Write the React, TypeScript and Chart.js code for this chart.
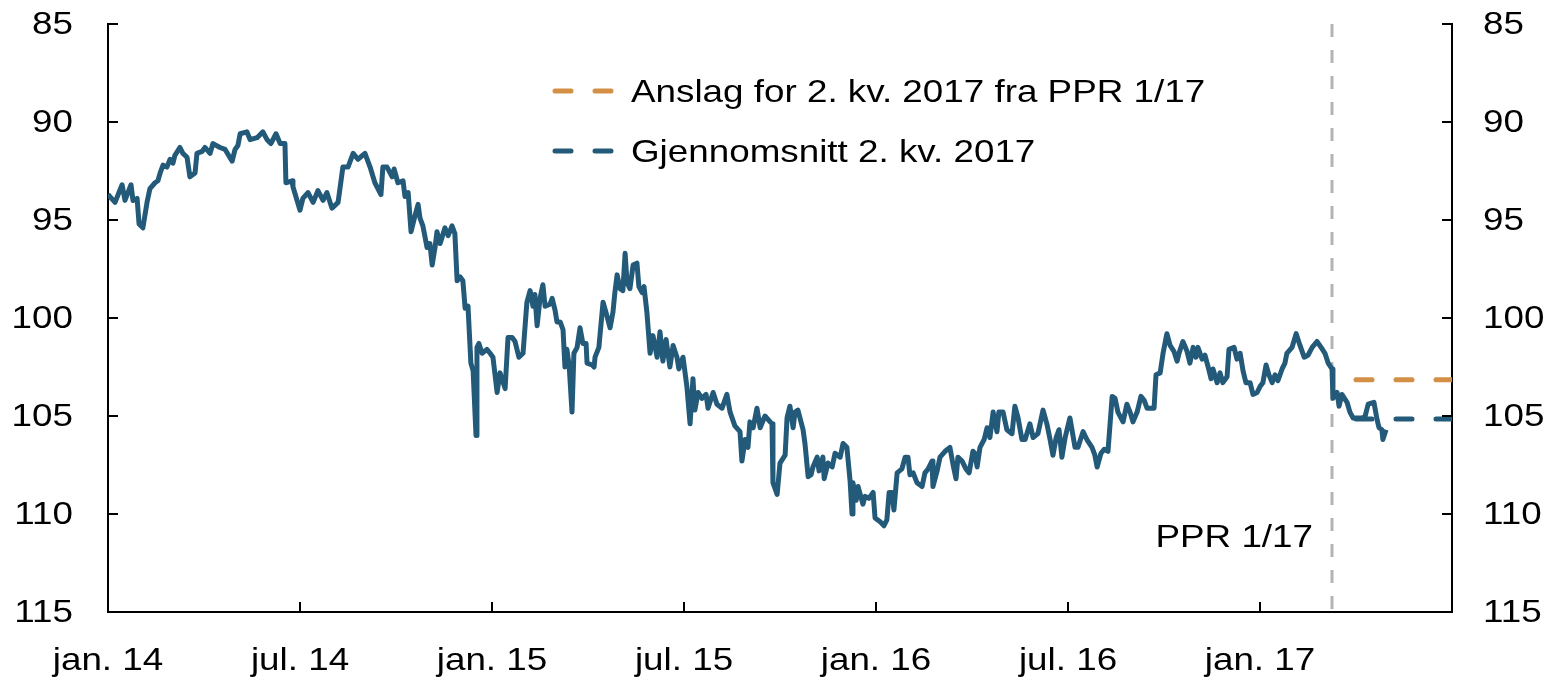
import React, { useEffect, useRef } from "react";
import { Chart, registerables } from "chart.js";

Chart.register(...registerables);

// Time axis: months since jan. 2014
const monthsSinceJan2014 = [
  0.00, 0.22, 0.44, 0.53, 0.72, 0.78, 0.91, 0.97, 1.09, 1.22, 1.31, 1.47, 1.56, 1.63, 1.72, 1.84, 1.94, 2.03, 2.09, 2.25,
  2.34, 2.47, 2.56, 2.72, 2.78, 2.94, 3.03, 3.19, 3.28, 3.50, 3.66, 3.88, 3.97, 4.06, 4.13, 4.34, 4.44, 4.66, 4.84, 4.97,
  5.09, 5.25, 5.38, 5.53, 5.56, 5.75, 5.78, 6.00, 6.09, 6.25, 6.41, 6.56, 6.72, 6.84, 7.00, 7.19, 7.34, 7.50, 7.66, 7.81,
  8.03, 8.19, 8.34, 8.53, 8.59, 8.72, 8.88, 8.94, 9.06, 9.22, 9.28, 9.38, 9.47, 9.59, 9.69, 9.75, 9.84, 9.97, 10.06, 10.13,
  10.22, 10.28, 10.38, 10.53, 10.63, 10.75, 10.84, 10.91, 11.00, 11.09, 11.16, 11.25, 11.34, 11.41, 11.50, 11.53, 11.59, 11.69, 11.84, 11.94,
  12.03, 12.16, 12.25, 12.41, 12.50, 12.63, 12.72, 12.84, 12.97, 13.09, 13.19, 13.28, 13.34, 13.41, 13.50, 13.59, 13.66, 13.81, 13.88, 13.97,
  14.03, 14.13, 14.22, 14.28, 14.34, 14.41, 14.50, 14.56, 14.66, 14.75, 14.84, 14.94, 14.97, 15.13, 15.19, 15.22, 15.34, 15.47, 15.56, 15.69,
  15.78, 15.84, 15.91, 16.00, 16.09, 16.16, 16.22, 16.31, 16.41, 16.53, 16.59, 16.69, 16.75, 16.84, 16.94, 17.03, 17.16, 17.25, 17.34, 17.44,
  17.56, 17.66, 17.78, 17.84, 17.97, 18.09, 18.19, 18.28, 18.34, 18.44, 18.56, 18.69, 18.75, 18.91, 19.03, 19.19, 19.34, 19.44, 19.59, 19.75,
  19.81, 19.91, 20.00, 20.06, 20.16, 20.28, 20.38, 20.53, 20.75, 20.78, 20.91, 21.00, 21.16, 21.22, 21.31, 21.41, 21.47, 21.56, 21.72, 21.78,
  21.88, 21.97, 22.03, 22.16, 22.22, 22.34, 22.38, 22.50, 22.63, 22.72, 22.88, 22.97, 23.09, 23.19, 23.25, 23.28, 23.38, 23.44, 23.59, 23.66,
  23.78, 23.91, 23.97, 24.13, 24.25, 24.34, 24.41, 24.50, 24.56, 24.66, 24.81, 24.91, 25.00, 25.06, 25.16, 25.28, 25.44, 25.53, 25.63, 25.75,
  25.78, 25.91, 26.00, 26.16, 26.31, 26.41, 26.50, 26.56, 26.69, 26.81, 26.91, 27.03, 27.09, 27.16, 27.25, 27.38, 27.47, 27.56, 27.66, 27.78,
  27.84, 27.97, 28.09, 28.25, 28.34, 28.44, 28.56, 28.66, 28.81, 28.91, 29.06, 29.22, 29.34, 29.44, 29.53, 29.63, 29.72, 29.81, 29.91, 30.06,
  30.22, 30.31, 30.47, 30.59, 30.75, 30.84, 30.91, 31.03, 31.13, 31.25, 31.38, 31.47, 31.56, 31.72, 31.84, 31.94, 32.03, 32.16, 32.28, 32.38,
  32.47, 32.59, 32.69, 32.75, 32.88, 32.97, 33.09, 33.19, 33.31, 33.41, 33.47, 33.59, 33.72, 33.81, 33.91, 34.00, 34.06, 34.19, 34.28, 34.38,
  34.47, 34.53, 34.66, 34.75, 34.84, 34.97, 35.03, 35.19, 35.28, 35.38, 35.47, 35.56, 35.69, 35.78, 35.91, 36.00, 36.09, 36.19, 36.28, 36.38,
  36.47, 36.56, 36.69, 36.78, 36.84, 37.00, 37.13, 37.25, 37.38, 37.50, 37.63, 37.78, 37.91, 38.03, 38.13, 38.25, 38.28, 38.41, 38.47, 38.56,
  38.72, 38.81, 38.91, 39.03, 39.19, 39.28, 39.38, 39.56, 39.66, 39.72, 39.81, 39.84, 39.94,
];

// Exchange rate index (inverted axis)
const exchangeRateIndex = [
  93.7, 94.1, 93.2, 94.0, 93.2, 94.0, 93.9, 95.2, 95.4, 94.1, 93.4, 93.1, 93.0, 92.6, 92.2, 92.3, 91.9, 92.1, 91.7, 91.3,
  91.6, 91.8, 92.8, 92.6, 91.6, 91.5, 91.3, 91.6, 91.1, 91.3, 91.4, 92.0, 91.4, 91.2, 90.6, 90.5, 90.9, 90.8, 90.5, 90.9,
  91.1, 90.6, 91.1, 91.1, 93.1, 93.0, 93.3, 94.5, 93.9, 93.6, 94.1, 93.5, 94.0, 93.6, 94.4, 94.1, 92.3, 92.3, 91.6, 91.9,
  91.6, 92.3, 93.1, 93.7, 92.3, 92.3, 92.8, 92.4, 93.1, 93.0, 93.8, 93.6, 95.6, 94.8, 94.2, 94.9, 95.3, 96.4, 96.2, 97.3,
  96.4, 95.6, 96.2, 95.4, 95.8, 95.3, 95.7, 98.1, 97.9, 98.1, 99.5, 99.4, 102.3, 102.7, 106.0, 101.5, 101.3, 101.8, 101.6, 101.8,
  102.0, 103.8, 102.8, 103.6, 101.0, 101.0, 101.2, 102.0, 101.8, 99.2, 98.6, 99.4, 98.8, 100.4, 99.0, 98.3, 99.4, 99.3, 99.0, 99.6,
  100.2, 100.2, 100.6, 102.5, 101.6, 102.4, 104.8, 101.8, 101.5, 100.5, 101.3, 101.3, 102.3, 102.4, 102.5, 102.0, 101.5, 99.2, 99.7, 100.5,
  99.7, 98.7, 97.8, 98.5, 98.6, 96.7, 98.2, 98.5, 97.3, 97.2, 98.4, 98.7, 98.4, 99.7, 101.8, 100.9, 102.0, 100.7, 102.2, 101.1,
  102.5, 101.4, 102.0, 102.6, 102.0, 103.5, 105.4, 103.1, 104.7, 103.8, 104.1, 103.9, 104.6, 103.8, 104.4, 104.6, 103.9, 104.8, 105.5, 105.8,
  107.3, 106.2, 106.6, 105.3, 105.6, 104.6, 105.6, 105.0, 105.4, 108.4, 109.0, 107.4, 107.0, 105.1, 104.5, 105.6, 104.8, 104.7, 105.7, 106.4,
  108.1, 108.0, 107.6, 107.1, 107.8, 107.1, 108.2, 107.4, 107.6, 106.9, 107.1, 106.4, 106.6, 108.3, 110.0, 108.4, 109.3, 108.6, 109.5, 109.1,
  109.2, 108.9, 110.2, 110.4, 110.6, 110.3, 108.9, 108.9, 109.8, 107.9, 107.7, 107.1, 107.1, 108.0, 107.9, 108.4, 108.6, 107.9, 107.7, 107.3,
  108.6, 107.8, 107.1, 106.8, 106.6, 107.5, 108.2, 107.1, 107.3, 107.7, 107.9, 106.8, 106.9, 107.6, 106.6, 106.2, 105.6, 106.1, 104.8, 105.8,
  104.8, 104.8, 105.7, 105.9, 104.5, 105.1, 106.2, 106.2, 105.4, 106.1, 105.9, 104.7, 105.4, 106.2, 107.0, 106.1, 105.7, 107.1, 106.1, 105.1,
  106.6, 106.6, 105.8, 106.2, 106.6, 107.0, 107.6, 106.9, 106.7, 106.8, 104.0, 104.1, 104.8, 105.3, 104.4, 104.8, 105.3, 104.8, 104.0, 104.2,
  104.6, 104.6, 104.6, 102.9, 102.8, 101.8, 100.8, 101.4, 101.7, 102.2, 101.8, 101.2, 101.7, 102.3, 101.5, 102.0, 101.5, 102.1, 101.9, 102.5,
  103.1, 102.6, 103.3, 102.8, 103.3, 103.0, 101.6, 101.5, 102.1, 101.8, 102.7, 103.3, 103.3, 103.9, 103.8, 103.5, 103.3, 102.4, 102.9, 103.3,
  102.9, 103.2, 102.6, 102.3, 101.8, 101.5, 100.8, 101.4, 102.0, 101.9, 101.5, 101.2, 101.5, 101.8, 102.3, 102.6, 104.1, 103.8, 104.5, 103.9,
  104.3, 104.8, 105.1, 105.1, 105.1, 105.05, 104.4, 104.3, 105.2, 105.6, 105.7, 106.2, 105.7,
];

// Q2 2017 horizontal references (start/end in months since jan. 2014)
const q2Months = [39, 42];
const forecastQ2Value = 103.15; // Anslag for 2. kv. 2017 fra PPR 1/17
const averageQ2Value = 105.15; // Gjennomsnitt 2. kv. 2017

const pprMonth = 38.25;
const pprLabel = "PPR 1/17";
const forecastLabel = "Anslag for 2. kv. 2017 fra PPR 1/17";
const averageLabel = "Gjennomsnitt 2. kv. 2017";

const xTickMonths = [0, 6, 12, 18, 24, 30, 36];
const xTickLabels = ["jan. 14", "jul. 14", "jan. 15", "jul. 15", "jan. 16", "jul. 16", "jan. 17"];
const yTickValues = [85, 90, 95, 100, 105, 110, 115];

const BLUE = "#245a79";
const ORANGE = "#d28f45";
const GREY = "#b4b4b4";
const FONT_FAMILY = '"Liberation Sans", Arial, Helvetica, sans-serif';
const FONT_SIZE = 32;
const TEXT_STRETCH = 1.15;
const LINE_W = 5;

function drawText(ctx: CanvasRenderingContext2D, text: string, x: number, y: number, align: CanvasTextAlign) {
  ctx.save();
  ctx.translate(x, y);
  ctx.scale(TEXT_STRETCH, 1);
  ctx.font = `${FONT_SIZE}px ${FONT_FAMILY}`;
  ctx.fillStyle = "#000";
  ctx.textAlign = align;
  ctx.textBaseline = "alphabetic";
  ctx.fillText(text, 0, 0);
  ctx.restore();
}

const decorPlugin = {
  id: "decor",
  beforeDatasetsDraw(chart: any) {
    const { ctx, chartArea, scales } = chart;
    const x = scales.x.getPixelForValue(pprMonth);
    ctx.save();
    ctx.strokeStyle = GREY;
    ctx.lineWidth = 3;
    ctx.setLineDash([13, 13]);
    ctx.beginPath();
    ctx.moveTo(x, chartArea.top);
    ctx.lineTo(x, chartArea.bottom);
    ctx.stroke();
    ctx.restore();
  },
  afterDraw(chart: any) {
    const { ctx, chartArea, scales } = chart;
    const tick = 10;
    ctx.save();
    ctx.strokeStyle = "#000";
    ctx.lineWidth = 2;
    ctx.setLineDash([]);
    // x ticks (inward)
    xTickMonths.forEach((m, i) => {
      const x = Math.round(scales.x.getPixelForValue(m));
      ctx.beginPath();
      ctx.moveTo(x, chartArea.bottom);
      ctx.lineTo(x, chartArea.bottom - tick);
      ctx.stroke();
      drawText(ctx, xTickLabels[i], x, chartArea.bottom + 58, "center");
    });
    // y ticks both sides
    yTickValues.forEach((v) => {
      const y = Math.round(scales.y.getPixelForValue(v));
      ctx.beginPath();
      ctx.moveTo(chartArea.left, y);
      ctx.lineTo(chartArea.left + tick, y);
      ctx.moveTo(chartArea.right, y);
      ctx.lineTo(chartArea.right - tick, y);
      ctx.stroke();
      drawText(ctx, String(v), chartArea.left - 35, y + 10, "right");
      drawText(ctx, String(v), chartArea.right + 31, y + 10, "left");
    });
    // PPR label
    const px = scales.x.getPixelForValue(pprMonth);
    drawText(ctx, pprLabel, px - 19, chartArea.bottom - 65, "right");

    // Legend
    const rows = [
      { color: ORANGE, label: forecastLabel, y: chartArea.top + 67 },
      { color: BLUE, label: averageLabel, y: chartArea.top + 127 },
    ];
    rows.forEach((r) => {
      ctx.save();
      ctx.strokeStyle = r.color;
      ctx.lineWidth = LINE_W;
      ctx.lineCap = "round";
      ctx.setLineDash([16, 24]);
      ctx.beginPath();
      ctx.moveTo(chartArea.left + 447, r.y);
      ctx.lineTo(chartArea.left + 512, r.y);
      ctx.stroke();
      ctx.restore();
      drawText(ctx, r.label, chartArea.left + 523, r.y + 11, "left");
    });
    ctx.restore();
  },
};

export default function App() {
  const canvasRef = useRef<HTMLCanvasElement | null>(null);

  useEffect(() => {
    if (!canvasRef.current) return;
    const mainData = monthsSinceJan2014.map((m, i) => ({ x: m, y: exchangeRateIndex[i] }));
    const forecastData = q2Months.map((m) => ({ x: m, y: forecastQ2Value }));
    const averageData = q2Months.map((m) => ({ x: m, y: averageQ2Value }));

    const hiddenAxis = {
      ticks: { display: false },
      grid: { display: false, drawTicks: false },
      border: { display: true, color: "#000", width: 2 },
    };

    const chart = new Chart(canvasRef.current, {
      type: "line",
      data: {
        datasets: [
          {
            label: "Importveid valutakurs",
            data: mainData,
            borderColor: BLUE,
            borderWidth: LINE_W,
            pointRadius: 0,
            tension: 0,
            borderJoinStyle: "round",
            fill: false,
          },
          {
            label: averageLabel,
            data: averageData,
            borderColor: BLUE,
            borderWidth: LINE_W,
            borderDash: [16, 24],
            borderCapStyle: "round",
            pointRadius: 0,
            fill: false,
          },
          {
            label: forecastLabel,
            data: forecastData,
            borderColor: ORANGE,
            borderWidth: LINE_W,
            borderDash: [16, 24],
            borderCapStyle: "round",
            pointRadius: 0,
            fill: false,
          },
        ],
      },
      options: {
        animation: false,
        responsive: true,
        maintainAspectRatio: false,
        layout: { padding: { left: 108, right: 103, top: 24, bottom: 65 } },
        plugins: {
          legend: { display: false },
          tooltip: { enabled: false },
        },
        scales: {
          x: { type: "linear", min: 0, max: 42, ...hiddenAxis },
          y: { type: "linear", position: "left", min: 85, max: 115, reverse: true, ...hiddenAxis },
          y2: { type: "linear", position: "right", min: 85, max: 115, reverse: true, ...hiddenAxis },
        },
      } as any,
      plugins: [decorPlugin],
    });
    return () => chart.destroy();
  }, []);

  return (
    <div style={{ position: "fixed", left: 0, top: 0, width: 1555, height: 677, background: "#fff" }}>
      <canvas ref={canvasRef} />
    </div>
  );
}
